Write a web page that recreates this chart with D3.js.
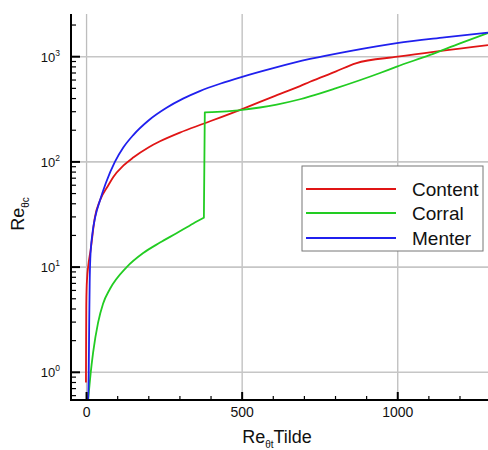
<!DOCTYPE html>
<html><head><meta charset="utf-8">
<script src="https://cdn.jsdelivr.net/npm/d3@7"></script>
<style>body{margin:0;background:#fff;} svg{display:block;} text{font-family:"Liberation Sans",Arial,sans-serif;fill:#111;}</style>
</head><body>
<svg id="c" width="488" height="450"></svg>
<script>
// Data (x = Re_θt Tilde, y = Re_θc)
const seriesNames = ["Content", "Corral", "Menter"];
const seriesColors = ["#e01515", "#22cc22", "#2020ee"];
const contentX = [-2, -1.5, -1, 0, 2, 5, 13, 27, 43, 70, 86, 118, 150, 200, 236, 300, 380, 500, 600, 686, 718, 800, 865, 1000, 1290];
const contentY = [0.8, 2, 4, 6, 8, 10, 14.5, 30, 43, 60, 72, 92, 110, 138, 157, 190, 233, 318, 418, 526, 578, 721, 865, 1000, 1290];
const corralX = [5, 8, 13, 21, 37, 53, 75, 129, 182, 236, 289, 343, 377, 380, 420, 477, 500, 557, 611, 686, 718, 800, 943, 997, 1104, 1200, 1290];
const corralY = [0.55, 0.68, 0.97, 1.54, 2.97, 4.49, 6.19, 10, 13.6, 17.1, 21.0, 26.0, 29.5, 296, 299, 307, 312, 329, 351, 394, 419, 500, 700, 805, 1040, 1340, 1680];
const menterX = [5, 7, 8.5, 10, 12, 19, 28, 43, 62, 91, 118, 150, 200, 257, 310, 364, 429, 500, 600, 718, 850, 997, 1150, 1290];
const menterY = [0.55, 1, 3, 7, 12, 21, 30, 43, 63, 100, 137, 180, 249, 327, 399, 471, 553, 643, 778, 951, 1138, 1349, 1528, 1695];
const xTicks = [0, 500, 1000];
const xMinor = [100, 200, 300, 400, 600, 700, 800, 900, 1100, 1200];
const yTicks = [1, 10, 100, 1000];
const yExp = ["0", "1", "2", "3"];

const svg = d3.select("#c");
const L = 71, R = 488, T = 14, B = 400;
const x = d3.scaleLinear().domain([-50, 1290]).range([L, R]);
const y = d3.scaleLog().domain([0.5454, 2546]).range([B, T]);

const yMinor = [];
[0.1, 1, 10, 100, 1000].forEach(d => { for (let k = 2; k <= 9; k++) { const v = d * k; if (v > 0.5454 && v < 2546 && !yTicks.includes(v)) yMinor.push(v); } });

// grid
const g = svg.append("g");
g.selectAll(".gx").data(xTicks).join("line").attr("x1", d => x(d)).attr("x2", d => x(d)).attr("y1", T).attr("y2", B).attr("stroke", "#bdbdbd").attr("stroke-width", 1.3);
g.selectAll(".gy").data(yTicks).join("line").attr("x1", L).attr("x2", R).attr("y1", d => y(d)).attr("y2", d => y(d)).attr("stroke", "#c6c6c6").attr("stroke-width", 1.6);

// clip
svg.append("clipPath").attr("id", "pc").append("rect").attr("x", L).attr("y", T).attr("width", R - L).attr("height", B - T);

const line = d3.line().x(d => x(d[0])).y(d => y(d[1])).curve(d3.curveMonotoneX);
const pairs = (xs, ys) => xs.map((v, i) => [v, ys[i]]);
const data = [pairs(contentX, contentY), pairs(corralX, corralY), pairs(menterX, menterY)];
const pg = svg.append("g").attr("clip-path", "url(#pc)");
// Corral has a jump: two smooth pieces joined by a straight segment
function corralPath(pts) {
  const a = pts.slice(0, 13), b = pts.slice(13);
  return line(a) + line(b).replace(/^M/, "L");
}
pg.selectAll("path.s").data(data).join("path")
  .attr("d", (d, i) => i === 1 ? corralPath(d) : line(d))
  .attr("fill", "none").attr("stroke", (d, i) => seriesColors[i]).attr("stroke-width", 1.8).attr("stroke-linejoin", "round");

// axes
const ax = svg.append("g");
ax.append("line").attr("x1", L).attr("x2", L).attr("y1", T).attr("y2", B + 1).attr("stroke", "#000").attr("stroke-width", 2);
ax.append("line").attr("x1", L - 1).attr("x2", R).attr("y1", B).attr("y2", B).attr("stroke", "#000").attr("stroke-width", 2);
ax.selectAll(".xt").data(xTicks).join("line").attr("x1", d => x(d)).attr("x2", d => x(d)).attr("y1", B).attr("y2", B - 8).attr("stroke", "#000").attr("stroke-width", 2);
ax.selectAll(".xm").data(xMinor).join("line").attr("x1", d => x(d)).attr("x2", d => x(d)).attr("y1", B).attr("y2", B - 4).attr("stroke", "#000").attr("stroke-width", 1.2);
ax.selectAll(".yt").data(yTicks).join("line").attr("x1", L).attr("x2", L + 9).attr("y1", d => y(d)).attr("y2", d => y(d)).attr("stroke", "#000").attr("stroke-width", 2);
ax.selectAll(".ym").data(yMinor).join("line").attr("x1", L).attr("x2", L + 5).attr("y1", d => y(d)).attr("y2", d => y(d)).attr("stroke", "#000").attr("stroke-width", 1.2);

ax.selectAll(".xl").data(xTicks).join("text").attr("x", d => x(d)).attr("y", 417).attr("text-anchor", "middle").attr("font-size", 14).text(d => d);
const yl = ax.selectAll(".yl").data(yTicks).join("text").attr("x", 60).attr("y", d => y(d) + 5).attr("text-anchor", "end").attr("font-size", 13);
yl.append("tspan").text("10");
yl.append("tspan").attr("font-size", 8.5).attr("dy", -6).text((d, i) => yExp[i]);

// axis titles
const xt = svg.append("text").attr("x", 277).attr("y", 443).attr("text-anchor", "middle").attr("font-size", 18);
xt.append("tspan").text("Re");
xt.append("tspan").attr("font-size", 10).attr("dy", 5).text("θt");
xt.append("tspan").attr("dy", -5).text("Tilde");
const yt = svg.append("text").attr("transform", "translate(24,214) rotate(-90)").attr("text-anchor", "middle").attr("font-size", 18);
yt.append("tspan").text("Re");
yt.append("tspan").attr("font-size", 10).attr("dy", 5).text("θc");

// legend
const lg = svg.append("g");
lg.append("rect").attr("x", 302).attr("y", 166).attr("width", 181).attr("height", 85).attr("fill", "#fff").attr("stroke", "#777").attr("stroke-width", 1);
const ly = [189, 213, 238];
seriesNames.forEach((n, i) => {
  lg.append("line").attr("x1", 306).attr("x2", 396).attr("y1", ly[i]).attr("y2", ly[i]).attr("stroke", seriesColors[i]).attr("stroke-width", 1.8);
  lg.append("text").attr("x", 412).attr("y", ly[i] + 7).attr("font-size", 19).text(n);
});
</script>
</body></html>
